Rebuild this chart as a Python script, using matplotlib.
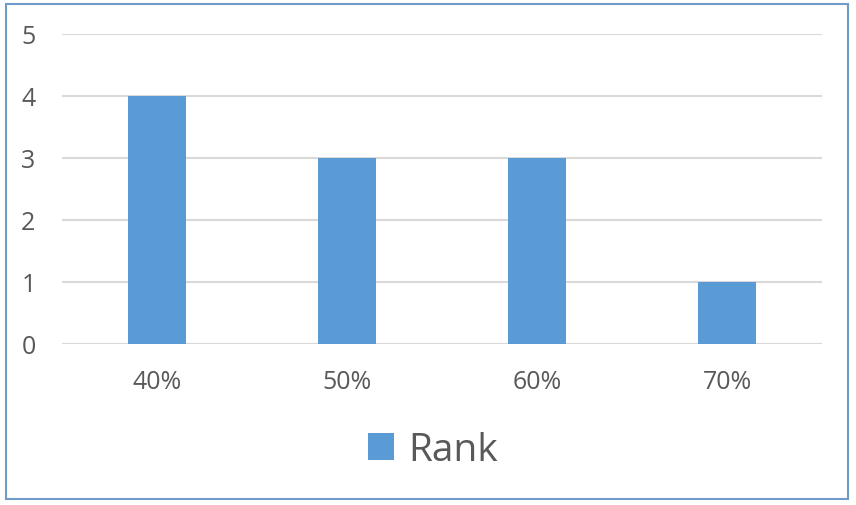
import matplotlib
matplotlib.use("Agg")
import matplotlib.pyplot as plt
from matplotlib.patches import Rectangle

categories = ["40%", "50%", "60%", "70%"]
rank = [4, 3, 3, 1]
yticks = [0, 1, 2, 3, 4, 5]

plt.rcParams['font.family'] = ['Open Sans', 'DejaVu Sans']
text_color = "#595959"
bar_color = "#5B9BD5"

fig = plt.figure(figsize=(8.56, 5.06), dpi=100)
ax = fig.add_axes([62/856, 1-345/506, 760/856, 310/506])

x = list(range(len(categories)))
ax.bar(x, rank, width=0.31, color=bar_color, label="Rank", zorder=3)
ax.set_xlim(-0.5, len(categories)-0.5)
ax.set_ylim(0, 5)
ax.set_yticks(yticks)
ax.set_yticklabels([str(v) for v in yticks])
ax.set_xticks(x)
ax.set_xticklabels(categories)
ax.yaxis.grid(True, color="#D9D9D9", linewidth=1.5, zorder=0)
for s in ax.spines.values():
    s.set_visible(False)
ax.axhline(0, color="#D9D9D9", linewidth=1.5, zorder=2)
ax.tick_params(axis='both', length=0, labelsize=18, labelcolor=text_color)
ax.tick_params(axis='y', pad=19)
ax.tick_params(axis='x', pad=18)

leg = ax.legend(loc='center', bbox_to_anchor=(433/856, 1-451/506),
                bbox_transform=fig.transFigure, frameon=False,
                fontsize=28, handlelength=0.67, handleheight=0.67,
                handletextpad=0.36, borderpad=0)
for t in leg.get_texts():
    t.set_color(text_color)

fig.patches.append(Rectangle((6/856, 1-500/506), 842/856, 495/506,
                             transform=fig.transFigure, fill=False,
                             edgecolor="#6E9BC8", linewidth=1.5))

fig.savefig("out.png", dpi=100)
